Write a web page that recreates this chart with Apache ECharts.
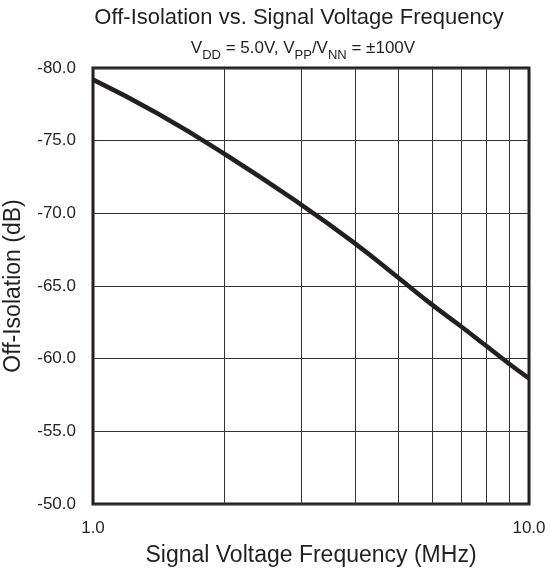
<!DOCTYPE html>
<html>
<head>
<meta charset="utf-8">
<script src="https://cdn.jsdelivr.net/npm/echarts@6/dist/echarts.min.js"></script>
<style>
html,body{margin:0;padding:0;background:#fff;}
#chart{width:550px;height:572px;}
</style>
</head>
<body>
<div id="chart"></div>
<script>
const frequency = [1, 1.4, 2, 3, 4, 5, 6, 7, 8, 9, 10];
const offIsolation = [-79.2, -76.9, -74.1, -70.6, -67.9, -65.6, -63.7, -62.2, -60.85, -59.65, -58.65];
const minorGridFreqs = [2, 3, 4, 5, 6, 7, 8, 9];

const font = '"Liberation Sans", Arial, Helvetica, sans-serif';
const ink = '#231f20';
const chart = echarts.init(document.getElementById('chart'));
chart.setOption({
  animation: false,
  backgroundColor: '#fff',
  title: [{
    text: 'Off-Isolation vs. Signal Voltage Frequency',
    left: 294, top: 2, textAlign: 'center',
    textStyle: {fontFamily: font, fontSize: 22, fontWeight: 'normal', color: ink}
  }, {
    text: '{n|V}{s|DD}{n| = 5.0V, V}{s|PP}{n|/V}{s|NN}{n| = ±100V}',
    left: 298, top: 33, textAlign: 'center',
    textStyle: {
      fontWeight: 'normal',
      rich: {
        n: {fontFamily: font, fontSize: 17, fontWeight: 'normal', color: ink, verticalAlign: 'bottom', lineHeight: 19},
        s: {fontFamily: font, fontSize: 13, fontWeight: 'normal', color: ink, verticalAlign: 'bottom', lineHeight: 13, padding: [0,0,-5,0]}
      }
    }
  }],
  grid: {left: 93, right: 21, top: 68, bottom: 68, outerBoundsMode: 'none', containLabel: false,
    show: true, borderColor: ink, borderWidth: 3, backgroundColor: 'transparent'},
  xAxis: {
    type: 'log', logBase: 10, min: 1, max: 10,
    name: 'Signal Voltage Frequency (MHz)', nameLocation: 'middle', nameGap: 40,
    nameTextStyle: {fontFamily: font, fontSize: 23, color: ink},
    axisLine: {show: false}, axisTick: {show: false}, splitLine: {show: false},
    axisLabel: {fontFamily: font, fontSize: 17, color: ink, margin: 16,
      formatter: v => Number(v).toFixed(1)}
  },
  yAxis: {
    type: 'value', inverse: true, min: -80, max: -50, interval: 5,
    name: 'Off-Isolation (dB)', nameLocation: 'middle', nameGap: 68,
    nameTextStyle: {fontFamily: font, fontSize: 23, color: ink},
    axisLine: {show: false}, axisTick: {show: false},
    splitLine: {show: true, lineStyle: {color: '#333', width: 1}},
    axisLabel: {fontFamily: font, fontSize: 17, color: ink, margin: 17,
      formatter: v => Number(v).toFixed(1)}
  },
  series: [{
    type: 'line',
    data: frequency.map((f, i) => [f, offIsolation[i]]),
    smooth: 0.5, showSymbol: false,
    lineStyle: {color: ink, width: 4.5},
    markLine: {
      silent: true, symbol: 'none', label: {show: false},
      lineStyle: {color: '#333', width: 1, type: 'solid'},
      data: minorGridFreqs.map(f => ({xAxis: f}))
    },
    z: 5
  }]
});
</script>
</body>
</html>
